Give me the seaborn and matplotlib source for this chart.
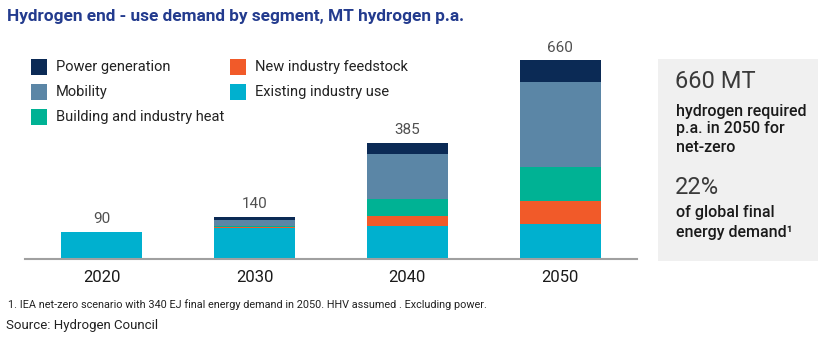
import numpy as np
import pandas as pd
import matplotlib
matplotlib.use("Agg")
import matplotlib.pyplot as plt
from matplotlib.patches import Rectangle
import seaborn as sns

# ---- data ----
years = ["2020", "2030", "2040", "2050"]
existing_industry = [89, 103, 110, 116]
new_feedstock = [0, 3, 31, 75]
building_heat = [0, 3, 58, 113]
mobility = [1, 20, 148, 283]
power_generation = [0, 11, 38, 73]
totals = [90, 140, 385, 660]

segments = ["Existing industry use", "New industry feedstock",
            "Building and industry heat", "Mobility", "Power generation"]
seg_values = [existing_industry, new_feedstock, building_heat, mobility, power_generation]
colors = {
    "Power generation": "#0b2a55",
    "Mobility": "#5b86a6",
    "Building and industry heat": "#00b294",
    "New industry feedstock": "#f15a29",
    "Existing industry use": "#00b0cf",
}

sns.set_theme(style="white")
plt.rcParams['font.family'] = ['Roboto', 'DejaVu Sans']

W, H = 830, 343
fig = plt.figure(figsize=(W / 100, H / 100), dpi=100)

def P(x, y):
    return (x / W, 1 - y / H)

ax = fig.add_axes([25 / W, (H - 259) / H, 612 / W, 211 / H])

# cumulative stacks, drawn from top down
cum = np.cumsum(np.array(seg_values), axis=0)
for i in range(len(segments) - 1, -1, -1):
    d = pd.DataFrame({"year": years, "value": cum[i]})
    sns.barplot(data=d, x="year", y="value", color=colors[segments[i]],
                width=0.53, saturation=1, ax=ax, linewidth=0, errorbar=None)

ax.set_xlim(-0.504, 3.504)
ax.set_ylim(0, 700)
ax.set_xlabel("")
ax.set_ylabel("")
ax.set_yticks([])
for s in ["top", "right", "left"]:
    ax.spines[s].set_visible(False)
ax.spines["bottom"].set_color("#a0a0a0")
ax.spines["bottom"].set_linewidth(1.5)
ax.tick_params(axis="x", length=0, pad=8, labelsize=12, colors="#1a1a1a")

for i, t in enumerate(totals):
    ax.annotate(f"{t}", (i, t), xytext=(0, 4), textcoords="offset points",
                ha="center", va="bottom", fontsize=11, color="#505050")

# title
fig.text(*P(7, 17), "Hydrogen end - use demand by segment, MT hydrogen p.a.",
         ha="left", va="center", fontsize=12.4, fontweight="bold", color="#233b8e")

# legend (manual)
leg_items = [
    ("Power generation", 31, 67), ("Mobility", 31, 92),
    ("Building and industry heat", 31, 117),
    ("New industry feedstock", 230, 67), ("Existing industry use", 230, 92),
]
for name, x, y in leg_items:
    fig.patches.append(Rectangle(P(x, y + 8), 16 / W, 16 / H, transform=fig.transFigure,
                                 facecolor=colors[name], edgecolor="none"))
    fig.text(*P(x + 25, y), name, ha="left", va="center", fontsize=10.5, color="#222222")

# right-side box
fig.patches.append(Rectangle(P(658, 261), 160 / W, 202 / H, transform=fig.transFigure,
                             facecolor="#f0f0f0", edgecolor="none", zorder=0))
fig.text(*P(675, 82), "660 MT", ha="left", va="center", fontsize=17, color="#3a3a3a")
for txt, y in [("hydrogen required", 111), ("p.a. in 2050 for", 129), ("net-zero", 148)]:
    fig.text(*P(676, y), txt, ha="left", va="center", fontsize=11.5,
             fontweight="medium", color="#1a1a1a")
fig.text(*P(675, 187), "22%", ha="left", va="center", fontsize=17, color="#3a3a3a")
fig.text(*P(676, 213), "of global final", ha="left", va="center", fontsize=11.5,
         fontweight="medium", color="#1a1a1a")
fig.text(*P(676, 232), "energy demand¹", ha="left", va="center", fontsize=11.5,
         fontweight="medium", color="#1a1a1a")

# footnotes
fig.text(*P(8, 305), "1. IEA net-zero scenario with 340 EJ final energy demand in 2050. HHV assumed . Excluding power.",
         ha="left", va="center", fontsize=7.8, color="#222222")
fig.text(*P(6, 326), "Source: Hydrogen Council", ha="left", va="center",
         fontsize=9.5, color="#222222")

fig.savefig("out.png", dpi=100)
